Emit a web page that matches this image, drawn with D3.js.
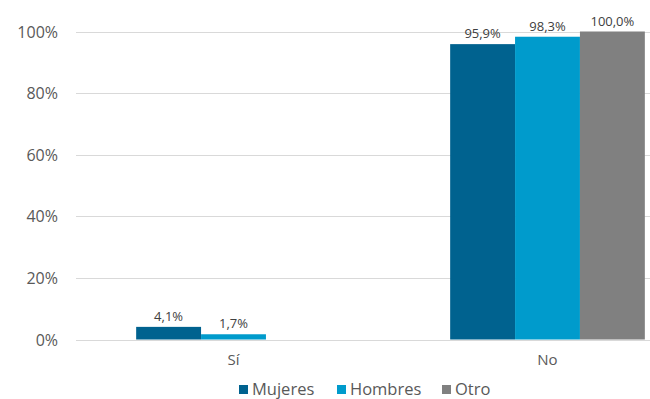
<!DOCTYPE html>
<html>
<head>
<meta charset="utf-8">
<script src="https://cdn.jsdelivr.net/npm/d3@7"></script>
<style>
  html, body { margin: 0; padding: 0; background: #fff; }
  svg { display: block; font-family: "Open Sans", "Liberation Sans", sans-serif; }
</style>
</head>
<body>
<svg id="chart" width="650" height="399"></svg>
<script>
// Respuestas por categoría y género (proporción)
const categories = ["Sí", "No"];
const seriesNames = ["Mujeres", "Hombres", "Otro"];
const mujeres = [0.041, 0.959];
const hombres = [0.017, 0.983];
const otro = [0, 1.0];
const yTicks = [0, 0.2, 0.4, 0.6, 0.8, 1.0];

const colors = ["#00628f", "#009bcc", "#808080"];
const seriesValues = [mujeres, hombres, otro];

const svg = d3.select("#chart");
const W = 650;
const fmtLabel = v => d3.format(".1%")(v).replace(".", ",");

const x = d3.scaleBand().domain(categories).range([76.5, 704.5]).paddingInner(0.38).paddingOuter(0.19);
const xs = d3.scaleBand().domain(seriesNames).range([0, x.bandwidth()]);
const y = d3.scaleLinear().domain([0, 1]).range([339.5, 31.5]);

// gridlines
svg.append("g").selectAll("line").data(yTicks).join("line")
  .attr("x1", 76).attr("x2", W)
  .attr("y1", d => Math.round(y(d)) + 0.5).attr("y2", d => Math.round(y(d)) + 0.5)
  .attr("stroke", "#d9d9d9").attr("stroke-width", 1);

// y axis labels
const yAxis = d3.axisLeft(y).tickValues(yTicks).tickSize(0).tickPadding(0)
  .tickFormat(d => d3.format(".0%")(d));
const gy = svg.append("g").attr("transform", "translate(58,0)").call(yAxis);
gy.select(".domain").remove();
gy.selectAll("text").attr("fill", "#595959").style("font-size", "16px")
  .style("font-family", "\"Open Sans\", sans-serif").attr("dy", "0.35em");

// bars
const groups = svg.append("g").selectAll("g").data(categories).join("g")
  .attr("transform", c => `translate(${x(c)},0)`);

groups.each(function(c, ci) {
  const g = d3.select(this);
  seriesNames.forEach((s, si) => {
    const v = seriesValues[si][ci];
    if (!v) return;
    g.append("rect")
      .attr("x", xs(s)).attr("width", xs.bandwidth())
      .attr("y", y(v)).attr("height", y(0) - y(v))
      .attr("fill", colors[si]);
    g.append("text")
      .attr("x", xs(s) + xs.bandwidth() / 2).attr("y", y(v) - 6)
      .attr("text-anchor", "middle").attr("fill", "#404040")
      .style("font-size", "13px")
      .text(fmtLabel(v));
  });
});

// x axis labels
svg.append("g").selectAll("text").data(categories).join("text")
  .attr("x", c => x(c) + x.bandwidth() / 2).attr("y", 365)
  .attr("text-anchor", "middle").attr("fill", "#595959")
  .style("font-size", "15px").text(c => c);

// legend
const legendX = [239, 337, 442];
const leg = svg.append("g").selectAll("g").data(seriesNames).join("g")
  .attr("transform", (d, i) => `translate(${legendX[i]},385)`);
leg.append("rect").attr("x", 0).attr("y", 0).attr("width", 9).attr("height", 9)
  .attr("fill", (d, i) => colors[i]);
leg.append("text").attr("x", 13).attr("y", 4.5).attr("dy", "0.35em")
  .attr("fill", "#595959").style("font-size", "16.5px").text(d => d);
</script>
</body>
</html>
